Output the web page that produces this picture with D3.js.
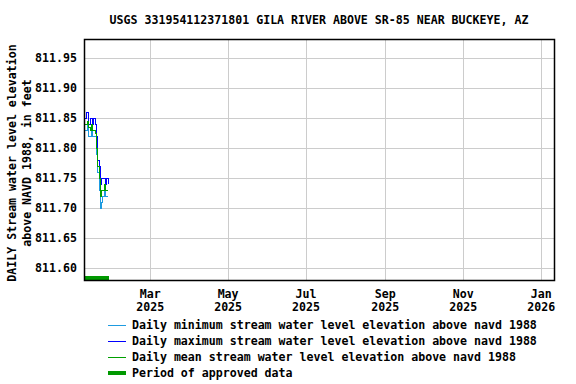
<!DOCTYPE html>
<html>
<head>
<meta charset="utf-8">
<script src="https://cdn.jsdelivr.net/npm/d3@7"></script>
<style>
  body { margin: 0; background: #fff; }
  svg text { font-family: "DejaVu Sans Mono", monospace; font-weight: bold; fill: #000; }
</style>
</head>
<body>
<svg id="chart" width="576" height="384"></svg>
<script>
// daily values, Jan 9 2025 onward
const startDay = "2025-01-09";
const dailyMax = [811.85, 811.86, 811.86, 811.84, 811.85, 811.85, 811.84, 811.85, 811.84, 811.82, 811.78, 811.77, 811.74, 811.75, 811.75, 811.75, 811.74, 811.75, 811.74];
const dailyMean = [811.84, 811.84, 811.845, 811.835, 811.83, 811.84, 811.83, 811.83, 811.825, 811.80, 811.77, 811.75, 811.72, 811.73, 811.73, 811.74, 811.73, 811.73, 811.73];
const dailyMin = [811.83, 811.83, 811.84, 811.82, 811.82, 811.83, 811.82, 811.82, 811.82, 811.79, 811.76, 811.73, 811.70, 811.71, 811.72, 811.73, 811.72, 811.72, 811.72];
const approved = ["2025-01-09", "2025-01-28"];
const yTicks = [811.60, 811.65, 811.70, 811.75, 811.80, 811.85, 811.90, 811.95];
const xTicks = ["2025-03-01", "2025-05-01", "2025-07-01", "2025-09-01", "2025-11-01", "2026-01-01"];
const legendLabels = [
    "Daily minimum stream water level elevation above navd 1988",
    "Daily maximum stream water level elevation above navd 1988",
    "Daily mean stream water level elevation above navd 1988",
    "Period of approved data"
];
const legendColors = ["#1e9be0", "#0000ff", "#00a000", "#009900"];

let parse = d3.utcParse("%Y-%m-%d");
let fmtMon = d3.utcFormat("%b"), fmtYr = d3.utcFormat("%Y");

let svg = d3.select("#chart");
let pLeft = 85, pRight = 554, pTop = 40, pBottom = 280;

let x = d3.scaleUtc()
    .domain([parse("2025-01-09"), parse("2026-01-11")])
    .range([pLeft, pRight]);
let y = d3.scaleLinear()
    .domain([811.58, 811.98])
    .range([pBottom, pTop]);

let days = dailyMax.map((v, i) => d3.utcDay.offset(parse(startDay), i));

// title
svg.append("text").attr("x", 319).attr("y", 24)
    .attr("text-anchor", "middle").style("font-size", "11.6px")
    .text("USGS 331954112371801 GILA RIVER ABOVE SR-85 NEAR BUCKEYE, AZ");

// grid
let grid = svg.append("g").attr("stroke", "#cccccc").attr("stroke-width", 1)
    .attr("shape-rendering", "crispEdges");
yTicks.forEach(t => {
    grid.append("line").attr("x1", pLeft).attr("x2", pRight)
        .attr("y1", Math.round(y(t)) + 0.5).attr("y2", Math.round(y(t)) + 0.5);
});
xTicks.forEach(t => {
    let xx = Math.round(x(parse(t))) + 0.5;
    grid.append("line").attr("x1", xx).attr("x2", xx).attr("y1", pTop).attr("y2", pBottom);
});

// y tick labels
svg.append("g").selectAll("text").data(yTicks).enter().append("text")
    .attr("x", 77).attr("y", d => y(d) + 4)
    .attr("text-anchor", "end").style("font-size", "11.6px")
    .text(d => d3.format(",.2f")(d));

// x tick labels
let xl = svg.append("g").selectAll("text").data(xTicks).enter().append("text")
    .attr("text-anchor", "middle").style("font-size", "11.6px")
    .attr("x", d => x(parse(d)));
xl.append("tspan").attr("y", 298).text(d => fmtMon(parse(d)));
xl.append("tspan").attr("x", d => x(parse(d))).attr("y", 311).text(d => fmtYr(parse(d)));

// y axis title
svg.append("text").attr("transform", "translate(16,163) rotate(-90)")
    .attr("text-anchor", "middle").style("font-size", "11.6px")
    .text("DAILY Stream water level elevation");
svg.append("text").attr("transform", "translate(31,163) rotate(-90)")
    .attr("text-anchor", "middle").style("font-size", "11.6px")
    .text("above NAVD 1988, in feet");

// series
let line = d3.line().x((d, i) => x(days[i])).y(d => y(d)).curve(d3.curveStepAfter);
[[dailyMin, legendColors[0]], [dailyMax, legendColors[1]], [dailyMean, legendColors[2]]].forEach(s => {
    svg.append("path").datum(s[0]).attr("d", line)
        .attr("fill", "none").attr("stroke", s[1]).attr("stroke-width", 1)
        .attr("shape-rendering", "crispEdges");
});

// approved period
svg.append("line")
    .attr("x1", x(parse(approved[0])) - 1).attr("x2", x(parse(approved[1])))
    .attr("y1", pBottom - 2).attr("y2", pBottom - 2)
    .attr("stroke", legendColors[3]).attr("stroke-width", 4)
    .attr("shape-rendering", "crispEdges");

// frame
svg.append("rect").attr("x", pLeft - 0.5).attr("y", pTop - 0.5)
    .attr("width", pRight - pLeft + 1).attr("height", pBottom - pTop + 1)
    .attr("fill", "none").attr("stroke", "#000").attr("stroke-width", 1.5);

// legend
legendLabels.forEach((lab, i) => {
    let yy = 325 + i * 16;
    svg.append("rect").attr("x", 108).attr("y", i == 3 ? yy - 2 : yy)
        .attr("width", 18).attr("height", i == 3 ? 4 : 1)
        .attr("fill", legendColors[i]);
    svg.append("text").attr("x", 132).attr("y", yy + 4).style("font-size", "11.6px").text(lab);
});
</script>
</body>
</html>
